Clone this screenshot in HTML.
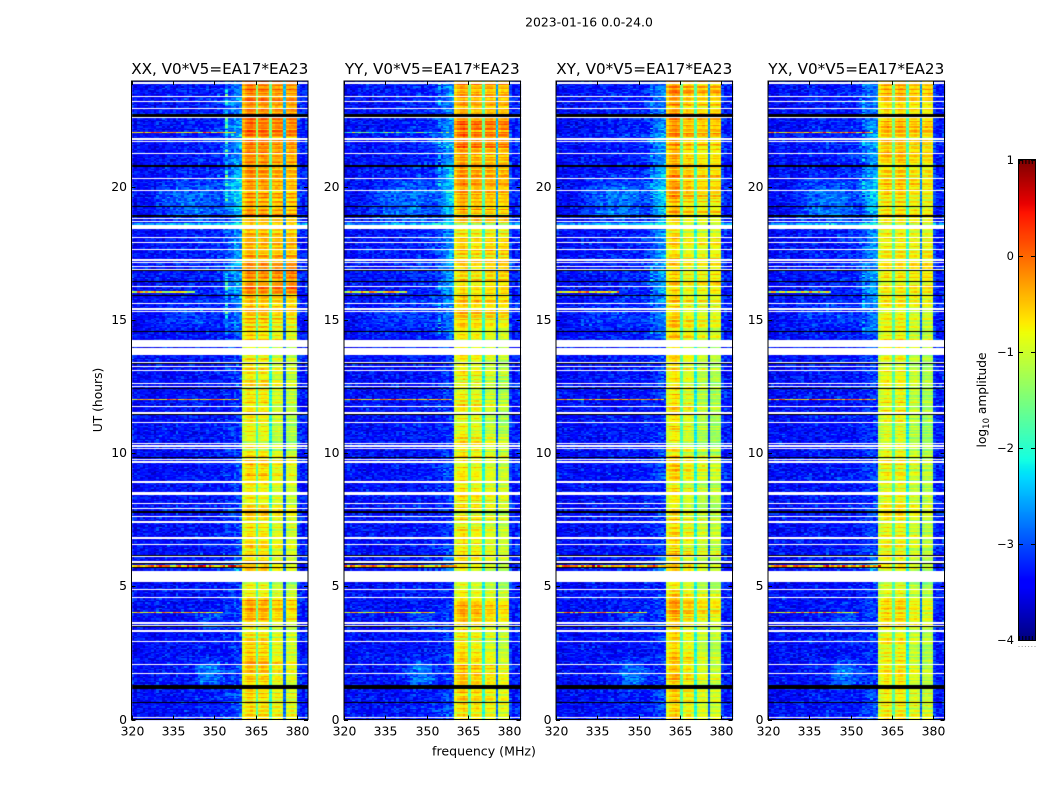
<!DOCTYPE html>
<html lang="en">
<head>
<meta charset="utf-8">
<title>2023-01-16 0.0-24.0</title>
<style>
html,body{margin:0;padding:0;background:#fff;width:1050px;height:800px;overflow:hidden}
#figure{position:relative;width:1050px;height:800px;background:#fff}
canvas{position:absolute;display:block}
svg{position:absolute;left:0;top:0}
text{font-family:"DejaVu Sans","Liberation Sans",sans-serif;fill:#000}
</style>
</head>
<body>
<div id="figure">
<canvas id="hm0"></canvas>
<canvas id="hm1"></canvas>
<canvas id="hm2"></canvas>
<canvas id="hm3"></canvas>
<canvas id="cbar"></canvas>
<svg id="overlay" width="1050" height="800" xmlns="http://www.w3.org/2000/svg">
<text x="589" y="26.5" font-size="12.4" text-anchor="middle">2023-01-16 0.0-24.0</text>
<text x="484" y="755.5" font-size="12.6" text-anchor="middle">frequency (MHz)</text>
<text transform="translate(102,400) rotate(-90)" font-size="12.3" text-anchor="middle">UT (hours)</text>
<text transform="translate(986,400) rotate(-90)" font-size="12.2" text-anchor="middle">log<tspan font-size="8.5" dy="3">10</tspan><tspan dy="-3"> amplitude</tspan></text>
</svg>
</div>
<script>
/* ---------- chart data (log10 amplitude, hours, MHz) ---------- */
const panelTitles = ["XX, V0*V5=EA17*EA23","YY, V0*V5=EA17*EA23","XY, V0*V5=EA17*EA23","YX, V0*V5=EA17*EA23"];
const freqTicks = [320,335,350,365,380];
const hourTicks = [0,5,10,15,20];
const colorTicks = [1,0,-1,-2,-3,-4];
const colorTickLabels = ["1","0","\u22121","\u22122","\u22123","\u22124"];

/* in-band level per half hour, 0h to 24h */
const levelXX = [-.8,-.75,-.7,-.6,-.6,-.7,-.85,-.55,-.4,-.8,-.9,-.65,-.75,-.75,-.8,-.75,-.85,-.85,-.7,-.7,-.9,-.9,-.85,-.75,-.85,-.85,-.8,-.75,-.7,-.6,-.5,-.55,-.3,-.3,-.45,-.55,-.5,-.35,-.35,-.3,-.3,-.35,-.3,-.22,-.15,-.22,-.22,-.22];
const levelYY = [-.75,-.7,-.6,-.5,-.55,-.7,-.8,-.55,-.45,-.8,-.85,-.7,-.8,-.75,-.8,-.7,-.8,-.8,-.75,-.7,-.85,-.9,-.85,-.7,-.9,-.85,-.85,-.85,-.75,-.7,-.65,-.6,-.7,-.65,-.65,-.7,-.7,-.55,-.42,-.38,-.32,-.38,-.32,-.22,-.15,-.35,-.32,-.32];
const levelXY = [-.85,-.8,-.8,-.7,-.75,-.85,-.9,-.7,-.6,-.9,-.95,-.8,-.85,-.85,-.9,-.85,-.95,-.95,-.85,-.8,-.95,-1,-.95,-.85,-.95,-.95,-.9,-.9,-.85,-.8,-.8,-.8,-.85,-.85,-.85,-.85,-.85,-.7,-.62,-.58,-.55,-.62,-.6,-.55,-.45,-.55,-.5,-.5];
const levelYX = [-.9,-.85,-.9,-.85,-.85,-.95,-.95,-.75,-.7,-.95,-1,-.9,-.9,-.9,-.95,-.9,-1,-1,-.9,-.9,-1,-1.05,-1,-.9,-1,-1,-.95,-.95,-.9,-.85,-.85,-.85,-.85,-.85,-.85,-.9,-.9,-.8,-.72,-.68,-.68,-.72,-.68,-.62,-.55,-.65,-.6,-.55];
/* offset of the four sub-bands for each product */
const subbandXX = [.1,.05,-.05,-.1];
const subbandYY = [.1,0,-.05,-.1];
const subbandXY = [.3,.05,-.05,-.05];
const subbandYX = [.12,.15,0,-.05];
/* extra tilt of the upper sub-bands, per hour */
const tiltByHour = [-.1,-.2,-.25,-.15,-.1,-.25,-.15,-.15,-.1,-.15,-.2,-.25,-.2,-.2,-.1,0,.2,.15,.05,0,0,0,.05,.05];
/* per channel, 320 to 383 MHz */
const channelBase = [-3.4,-3.38,-3.4,-3.37,-3.4,-3.35,-3.38,-3.4,-3.37,-3.35,-3.38,-3.4,-3.35,-3.37,-3.4,-3.38,-3.35,-3.4,-3.37,-3.35,-3.38,-3.35,-3.4,-3.37,-3.35,-3.35,-3.38,-3.35,-3.37,-3.35,-3.35,-3.35,-3.35,-3.35,-3.33,-3.33,-3.33,-3.3,-3.3,-3.28,-.35,-.12,0,.05,-.08,-1.3,-.1,.02,.02,-.08,-1.5,-.08,0,.02,-.08,-2.3,-.08,0,.02,-.06,-3.2,-3.3,-3.3,-3.25];
const channelGain = [0,0,0,0,0,0,0,0,0,0,0,0,0,0,0,0,0,0,0,0,0,0,0,0,0,0,0,0,0,0,0,0,0,0,0,0,0,0,0,0,.9,1,1,1,1,.6,1,1,1,1,.6,1,1,1,1,.6,1,1,1,1,0,0,0,0];
const bumpWeight = [0,0,0,0,0,0,0,0,0,0,.03,.03,.05,.05,.05,.05,.07,.07,.1,.1,.1,.1,.12,.12,.15,.15,.15,.18,.18,.2,.22,.25,.28,.35,.5,.65,.8,.9,1,1,0,0,0,0,0,0,0,0,0,0,0,0,0,0,0,0,0,0,0,0,.1,.05,.05,.05];
/* broadband rise next to the band, per half hour */
const bumpLevel = [.3,.3,.2,.2,.15,.1,.2,.2,.2,.15,.2,.7,.3,.2,.2,.2,.2,.15,.25,.25,.15,.15,.15,.1,.15,.2,.2,.25,.3,.5,.5,.6,.7,.7,.7,.6,.6,.7,.9,1,.9,.7,.6,.8,.6,.5,.6,.5];
/* isolated warm patches outside the band, tapered toward their edges */
const patchStartHour = [1,3.2,14.6,18.4];
const patchEndHour = [2.4,4.2,15.8,20.4];
const patchStartMHz = [341,342,325,326];
const patchEndMHz = [354,354,352,354];
const patchAmount = [.5,.3,.2,.4];
/* row to row ripple, hand read from the stripes */
const rowRipple = [.12,-.18,.05,.22,-.1,-.28,.15,.02,-.16,.28,-.05,-.22,.1,.18,-.3,.06,.24,-.12,-.02,.2,-.26,.08,.14,-.08,-.2,.3,-.14,.04,.16,-.24,.1,-.04,.26,-.18,-.06,.12,.2,-.3,.02,.18,-.1,-.16,.24,.06,-.22,.08,-.02];
/* cell speckle, hand read from the background */
const cellGrain = [.1,-.22,.05,.3,-.12,-.3,.18,.02,-.08,.26,-.18,.12,-.34,.06,.22,-.04,.34,-.26,.08,-.14,.16,.42,-.2,-.06,.14,-.32,.24,.03,-.1,.2,-.24,.38,-.02,-.16,.1,.28,-.28,.04,-.12,.18,-.36,.07,.32,-.05,-.2,.15,.5,-.18,.09,-.27,.21,-.01,.13,-.3,.27,-.09,.04,.35,-.23,.11,-.15];
/* flagged rows drawn white */
const whiteHours = [23.93,23.41,23.2,22.96,22.61,21.81,21.71,21.29,20.31,19.86,18.82,18.7,18.13,17.9,17.68,17.25,17.17,17.04,16.94,16.29,15.62,15.4,15.33,13.43,13.26,13.1,12.61,12.51,11.76,11.51,11.17,10.37,10.29,10.16,9.76,9.69,8.92,8.53,8.45,8.13,7.92,7.62,7.4,6.81,6.57,6.11,5.9,4.86,4.56,3.64,3.51,3.32,2.9,2.05,1.72,.08];
const whiteStart = [18.47,14,13.68,5.14];
const whiteEnd = [18.6,14.27,13.95,5.62];
/* zero rows drawn black */
const blackHours = [19.26,16.87,16.49,15.91,14.56,13.35,12.41,11.45,9.83,6.15,5.86,5.72,3.47,.61];
const blackStart = [22.66,20.75,18.88,7.75,1.16];
const blackEnd = [22.76,20.85,18.93,7.83,1.3];
/* dim rows between flags */
const dimHours = [18.64,14.0];
const dimDrop = [.45,.9];
/* narrow-band interference rows */
const spurHours = [22.08,16.07,12,5.75,4.03];
const spurEndMHz = [357,342,358,360,352];
const spurLevel = [-.3,-.65,-.4,-.3,-.45];
const spurDropXX = [0,0,0,0,0];
const spurDropYY = [1.6,0,0,0,0];
const spurDropXY = [3,0,0,0,0];
const spurDropYX = [0,.4,0,0,0];
/* cyan vertical line in channel 354 */
const vlineChannel = 34;
const vlineStart = [14.5,19.5];
const vlineEnd = [17,24];
const vlineScale = [.55,.08,.08,.08];

/* ---------- geometry and scales ---------- */
const panelLeft = [131.5,344,556,768];
const plotTop = 81, plotBottom = 719.5, plotWidth = 176.5;
const nRows = 480, rowsPerHour = 20;
const hourScale = h => plotBottom - (h/24)*(plotBottom-plotTop);
const freqScale = (left,m) => left + ((m-320)/64)*plotWidth;
const cbLeft = 1019, cbRight = 1035, cbTop = 160, cbBottom = 640;
const colorScale = v => cbTop + ((1-v)/5)*(cbBottom-cbTop);

function jet(v){
  const t = Math.max(0,Math.min(1,(v+4)/5));
  const ramp = (x,pts)=>{
    for(let i=1;i<pts.length;i++){
      if(x<=pts[i][0]){
        const a=pts[i-1],b=pts[i];
        return a[1]+(b[1]-a[1])*(x-a[0])/(b[0]-a[0]);
      }
    }
    return pts[pts.length-1][1];
  };
  const r=ramp(t,[[0,0],[.35,0],[.66,1],[.89,1],[1,.5]]);
  const g=ramp(t,[[0,0],[.125,0],[.375,1],[.64,1],[.91,0],[1,0]]);
  const b=ramp(t,[[0,.5],[.11,1],[.34,1],[.65,0],[1,0]]);
  return "rgb("+Math.round(r*255)+","+Math.round(g*255)+","+Math.round(b*255)+")";
}
function inList(h,list){return list.some(x=>Math.floor(x*rowsPerHour)===Math.floor(h*rowsPerHour));}
function inRanges(h,a,b){return a.some((s,i)=>h>=s&&h<b[i]);}

const levels = [levelXX,levelYY,levelXY,levelYX];
const subbands = [subbandXX,subbandYY,subbandXY,subbandYX];
const spurDrops = [spurDropXX,spurDropYY,spurDropXY,spurDropYX];

function cellValue(p,c,r,h){
  const g = cellGrain[(c*c*3+r*r*5+c*r+p*13+c*7)%cellGrain.length];
  const rip = rowRipple[(r+p*((r>>3)%3))%rowRipple.length];
  const rip2 = rowRipple[(r*r+p)%rowRipple.length];
  const mhz = 320+c;
  for(let i=0;i<spurHours.length;i++){
    const sr=Math.floor(spurHours[i]*rowsPerHour);
    if(r===sr && mhz<=spurEndMHz[i] && spurDrops[p][i]<2.5){
      return spurLevel[i]-spurDrops[p][i]+g*2.2;
    }
  }
  let v;
  if(channelGain[c]>0){
    const sub = mhz<365?0:mhz<370?1:mhz<375?2:3;
    let lvl = levels[p][Math.floor(h*2)] + subbands[p][sub] + 1.1*rip + .45*rip2 + .3*g;
    if(sub>=2) lvl += tiltByHour[Math.floor(h)]*(sub===3?1:.6);
    v = channelBase[c] + channelGain[c]*lvl;
  }else{
    let bump = bumpLevel[Math.floor(h*2)]*bumpWeight[c];
    patchAmount.forEach((a,i)=>{
      const s=patchStartHour[i],e=patchEndHour[i],m0=patchStartMHz[i],m1=patchEndMHz[i];
      if(h>=s&&h<e&&mhz>=m0&&mhz<m1){
        const th=1-Math.abs((h-s)/(e-s)*2-1);
        const tm=1-Math.abs((mhz-m0)/(m1-m0)*2-1);
        bump+=a*Math.min(1,th*1.6)*Math.min(1,tm*1.6);
      }
    });
    v = channelBase[c] + g*1.0 + bump + .15*rip*(1+3*bump);
  }
  if(c===vlineChannel && inRanges(h,vlineStart,vlineEnd)) v += 1.1*vlineScale[p]+g;
  const d = dimHours.findIndex(x=>Math.floor(x*rowsPerHour)===r);
  if(d>=0) v = channelGain[c]>0 ? v-dimDrop[d] : v+.7;
  return v;
}

/* ---------- heatmaps ---------- */
panelLeft.forEach((left,p)=>{
  const cv=document.getElementById("hm"+p);
  const x0=Math.floor(left), y0=plotTop;
  const W=Math.ceil(plotWidth)+1, H=Math.ceil(plotBottom-plotTop)+1;
  cv.width=W; cv.height=H;
  cv.style.left=x0+"px"; cv.style.top=y0+"px";
  const ctx=cv.getContext("2d");
  const xFirst=Math.round(freqScale(left,320))-x0;
  const xLast=Math.round(freqScale(left,384))-x0;
  for(let r=0;r<nRows;r++){
    const h=(r+.5)/rowsPerHour;
    const yA=Math.round(hourScale((r+1)/rowsPerHour))-y0;
    const yB=Math.round(hourScale(r/rowsPerHour))-y0;
    if(inList(h,whiteHours)||inRanges(h,whiteStart,whiteEnd)) continue;
    const thinBlack=inList(h,blackHours);
    const wideBlack=inRanges(h,blackStart,blackEnd);
    for(let c=0;c<64;c++){
      const xA=Math.round(freqScale(left,320+c))-x0;
      const xB=Math.round(freqScale(left,321+c))-x0;
      ctx.fillStyle=jet(cellValue(p,c,r,h));
      ctx.fillRect(xA,yA,xB-xA,yB-yA);
    }
    if(wideBlack||thinBlack){
      ctx.fillStyle="#000";
      ctx.fillRect(xFirst,yA,xLast-xFirst,wideBlack?yB-yA:1);
    }
  }
});

/* ---------- colorbar ---------- */
(function(){
  const cv=document.getElementById("cbar");
  cv.width=cbRight-cbLeft; cv.height=cbBottom-cbTop;
  cv.style.left=cbLeft+"px"; cv.style.top=cbTop+"px";
  const ctx=cv.getContext("2d");
  for(let y=0;y<cv.height;y++){
    ctx.fillStyle=jet(1-(y+.5)/cv.height*5);
    ctx.fillRect(0,y,cv.width,1);
  }
})();

/* ---------- axes overlay ---------- */
const svg=document.getElementById("overlay");
const NS="http://www.w3.org/2000/svg";
function addLine(x1,y1,x2,y2,w,col){
  const l=document.createElementNS(NS,"line");
  l.setAttribute("x1",x1);l.setAttribute("y1",y1);
  l.setAttribute("x2",x2);l.setAttribute("y2",y2);
  l.setAttribute("stroke",col||"#000");
  l.setAttribute("stroke-width",w||1);
  svg.appendChild(l);
  return l;
}
function addText(x,y,s,size,anchor){
  const t=document.createElementNS(NS,"text");
  t.setAttribute("x",x);t.setAttribute("y",y);
  t.setAttribute("font-size",size);
  t.setAttribute("text-anchor",anchor);
  t.textContent=s;
  svg.appendChild(t);
  return t;
}
panelLeft.forEach((left,p)=>{
  const frame=document.createElementNS(NS,"rect");
  frame.setAttribute("x",left);
  frame.setAttribute("y",plotTop);
  frame.setAttribute("width",plotWidth);
  frame.setAttribute("height",plotBottom-plotTop);
  frame.setAttribute("fill","none");
  frame.setAttribute("stroke","#000");
  frame.setAttribute("stroke-width","1");
  
  
  svg.appendChild(frame);
  const title=addText(left+plotWidth/2,plotTop-7,panelTitles[p],15.2,"middle");
  
  
  freqTicks.forEach(f=>{
    const x=Math.round(freqScale(left,f))+.5;
    const a=addLine(x,plotBottom,x,plotBottom-4);
    
    
    const b=addLine(x,plotTop,x,plotTop+4);
    
    
    const t=addText(x,plotBottom+16,String(f),12.4,"middle");
    
    
  });
  hourTicks.forEach(hr=>{
    const y=Math.round(hourScale(hr))+.5;
    const a=addLine(left,y,left+4,y);
    
    
    const b=addLine(left+plotWidth,y,left+plotWidth-4,y);
    
    
    const t=addText(left-4.5,y+3.5,String(hr),12.4,"end");
    
    
  });
});
const cbFrame=document.createElementNS(NS,"rect");
cbFrame.setAttribute("x",cbLeft-.5);
cbFrame.setAttribute("y",cbTop-.5);
cbFrame.setAttribute("width",cbRight-cbLeft+1);
cbFrame.setAttribute("height",cbBottom-cbTop+1);
cbFrame.setAttribute("fill","none");
cbFrame.setAttribute("stroke","#000");
cbFrame.setAttribute("stroke-width","1");


svg.appendChild(cbFrame);
colorTicks.forEach((v,i)=>{
  const y=Math.round(colorScale(v))+.5;
  const a=addLine(cbLeft,y,cbLeft+4,y);
  
  
  const b=addLine(cbRight,y,cbRight-4,y);
  
  
  const t=addText(cbLeft-5,y+3.5,colorTickLabels[i],11.5,"end");
  
  
});
[0,1,2,3,4,5].forEach(i=>{
  const x=cbLeft+i*(cbRight-cbLeft)/5+.5;
  const a=addLine(x,cbTop,x,cbTop+4,1);
  
  
  const b=addLine(x,cbBottom,x,cbBottom-4,1);
  
  
  const d=addLine(x-.5,647,x-.5,646,1,"#999");
  
  
});
</script>
</body>
</html>
